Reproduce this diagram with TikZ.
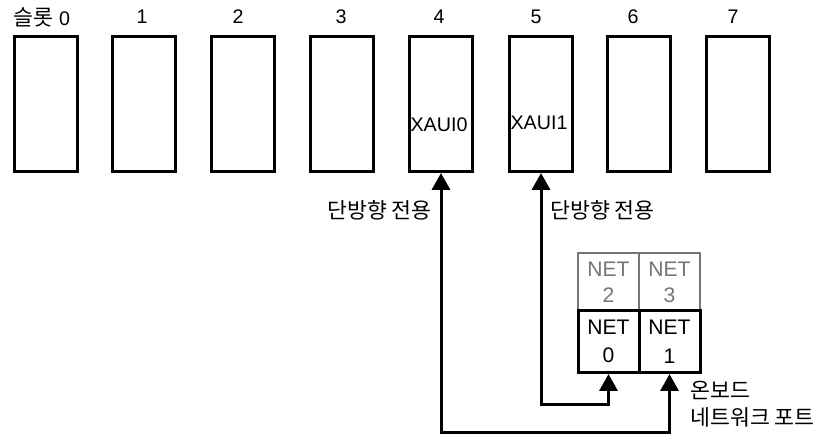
\documentclass[tikz,border=0pt]{standalone}
\usepackage{fontspec}
\setmainfont{Liberation Sans}
\newfontfamily\kr{Noto Sans CJK KR}
\usepackage{tikz}
\usetikzlibrary{arrows.meta,positioning}
\definecolor{netgray}{RGB}{118,118,118}

\tikzset{
    slot/.style={draw, line width=0.075cm, minimum width=1.575cm, minimum height=3.375cm, inner sep=0pt},
    netcell/.style={draw, line width=0.075cm, minimum width=1.525cm, minimum height=1.54cm, inner sep=0pt, align=center, font=\fontsize{15}{20}\selectfont},
    netspare/.style={netcell, draw=netgray, text=netgray, line width=0.05cm, minimum height=1.44cm, font=\fontsize{15}{18.5}\selectfont},
    krtext/.style={font=\kr\fontsize{15.4}{18}\selectfont, inner sep=0pt},
    link/.style={line width=0.075cm, {Triangle[width=0.45cm,length=0.42cm]}-{Triangle[width=0.45cm,length=0.42cm]}}
}

\begin{document}
\begin{tikzpicture}[x=0.025cm, y=-0.025cm, font=\fontsize{14}{16}\selectfont]
        \useasboundingbox (0,0) rectangle (820,437);
        % slots
        \node[slot] (s0) at (46,104) {}; \node[slot] (s1) at (144,104) {};
        \node[slot] (s2) at (243,104) {}; \node[slot] (s3) at (342,104) {};
        \node[slot] (s4) at (441,104) {}; \node[slot] (s5) at (541,104) {};
        \node[slot] (s6) at (639,104) {}; \node[slot] (s7) at (738,104) {};
        \node (l0) at (42,17) {{\kr\fontsize{15.4}{16}\selectfont 슬롯} 0}; \node (l1) at (142,17) {1}; \node (l2) at (238,17) {2}; \node (l3) at (341,17) {3};
        \node (l4) at (439,17) {4}; \node (l5) at (536,17) {5}; \node (l6) at (633,17) {6}; \node (l7) at (733,17) {7};
        \node[inner sep=0pt] (x0) at (439,125) {XAUI0}; \node[inner sep=0pt] (x1) at (539,123) {XAUI1};
        % onboard ports
        \node[netspare] (net2) at (608.5,282) {NET\\2}; \node[netspare] (net3) at (669.5,282) {NET\\3};
        \node[netcell] (net0) at (608.5,341.75) {NET\\0}; \node[netcell] (net1) at (669.5,341.75) {NET\\1};
        % links
        \coordinate (low4) at (0,432); \coordinate (low5) at (0,404);
        \draw[link] (s4.south) -- (s4.south |- low4) -| (net1.south);
        \draw[link] (s5.south) -- (s5.south |- low5) -| (net0.south);
        \node[krtext, anchor=east] (u4) at (432,210) {단방향 전용};
        \node[krtext, anchor=west] (u5) at (550,210) {단방향 전용};
        \node[krtext, anchor=west] (ob) at (690,390) {온보드};
        \node[krtext, anchor=west] (np) at (690,417) {네트워크 포트};
    \end{tikzpicture}
\end{document}
